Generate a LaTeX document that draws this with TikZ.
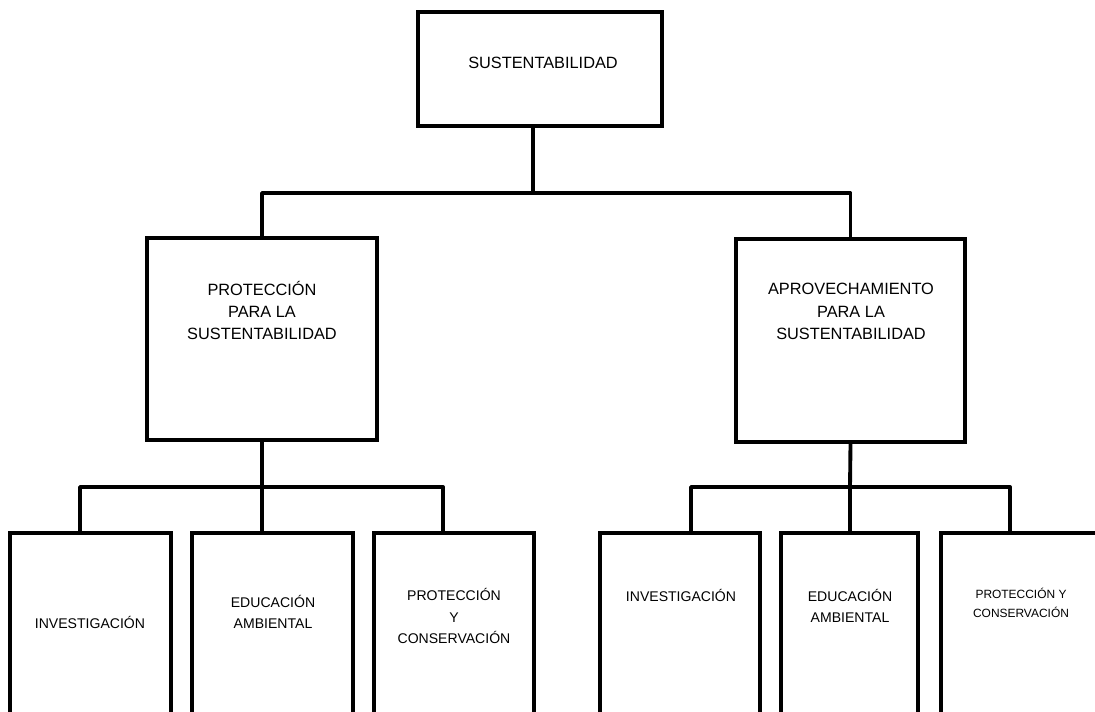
\documentclass[tikz,border=0pt]{standalone}
\usepackage{fontspec}
\setmainfont{Liberation Sans}
\usetikzlibrary{positioning,calc}
\tikzset{
    every node/.append style={align=center},
    box/.style={rectangle,draw=black,line width=2.2pt,inner sep=0pt},
    conn/.style={draw=black,line width=2.2pt,line join=round},
    bigtxt/.style={font=\fontsize{9.3}{12.8}\selectfont,inner sep=0pt},
    smalltxt/.style={font=\fontsize{8}{12}\selectfont,inner sep=0pt},
    tinytxt/.style={font=\fontsize{6.8}{10.8}\selectfont,inner sep=0pt}
}
\begin{document}
\begin{tikzpicture}[x=0.02cm,y=-0.02cm]
    \useasboundingbox (0,0) rectangle (1095,712);
    \clip (0,0) rectangle (1095,712);
    % top level
    \node[box,minimum width=4.88cm,minimum height=2.28cm] (sust) at (540,69) {};
    \node[bigtxt] (sustlbl) at (543,63) {SUSTENTABILIDAD};
    % second level
    \node[box,minimum width=4.6cm,minimum height=4.04cm]  (prot)  at (262,339) {};
    \node[box,minimum width=4.58cm,minimum height=4.06cm] (aprov) at (850.5,340.5) {};
    \node[bigtxt] (protlbl)  at (262,310.5) {PROTECCIÓN\\PARA LA\\SUSTENTABILIDAD};
    \node[bigtxt] (aprovlbl) at (851,311.5) {APROVECHAMIENTO\\PARA LA\\SUSTENTABILIDAD};
    % third level, cut by the page bottom
    \node[box,minimum width=3.22cm,minimum height=3.94cm] (inv1) at (90.5,631.5) {};
    \node[box,minimum width=3.22cm,minimum height=3.94cm] (edu1) at (272.5,631.5) {};
    \node[box,minimum width=3.2cm,minimum height=3.94cm]  (pyc1) at (454,631.5) {};
    \node[box,minimum width=3.2cm,minimum height=3.94cm]  (inv2) at (680,631.5) {};
    \node[box,minimum width=2.74cm,minimum height=3.94cm] (edu2) at (849.5,631.5) {};
    \node[box,minimum width=3.2cm,minimum height=3.94cm]  (pyc2) at (1021,631.5) {};
    \node[smalltxt] (inv1lbl) at (90,622)  {INVESTIGACIÓN};
    \node[smalltxt] (edu1lbl) at (273,612) {EDUCACIÓN\\AMBIENTAL};
    \node[smalltxt] (pyc1lbl) at (454,616) {PROTECCIÓN\\Y\\CONSERVACIÓN};
    \node[smalltxt] (inv2lbl) at (681,595) {INVESTIGACIÓN};
    \node[smalltxt] (edu2lbl) at (850,606) {EDUCACIÓN\\AMBIENTAL};
    \node[tinytxt]  (pyc2lbl) at (1021,603) {PROTECCIÓN Y\\CONSERVACIÓN};

    % junction points
    \coordinate (topj) at (533,193);
    \coordinate (lj)   at (262,487);
    \coordinate (rj)   at (850,487);
    \coordinate (ll)   at (80,487);
    \coordinate (lr)   at (443,487);
    \coordinate (rl)   at (691,487);
    \coordinate (rr)   at (1010,487);

    \draw[conn] (sust.south -| topj) -- (topj);
    \draw[conn] (prot.north) |- (topj) -| (aprov.north);
    \draw[conn] (prot.south) -- (lj);
    \draw[conn] (inv1.north -| ll) |- (lr) -- (pyc1.north -| lr);
    \draw[conn] (lj) -- (edu1.north -| lj);
    \draw[conn] (aprov.south) -- (rj);
    \draw[conn] (inv2.north -| rl) |- (rr) -- (pyc2.north -| rr);
    \draw[conn] (rj) -- (edu2.north -| rj);
\end{tikzpicture}
\end{document}
